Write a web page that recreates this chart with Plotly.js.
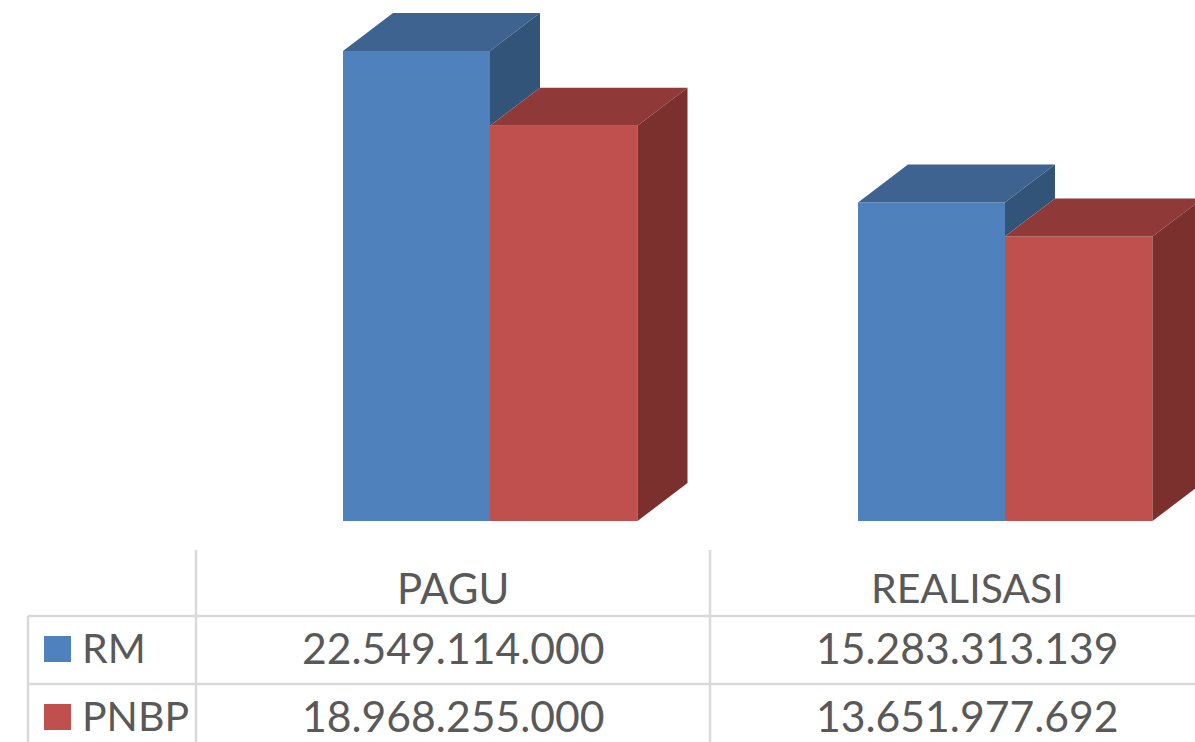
<!DOCTYPE html>
<html>
<head>
<meta charset="utf-8">
<script src="https://cdn.plot.ly/plotly-3.0.1.min.js"></script>
<style>html,body{margin:0;padding:0;background:#fff;overflow:hidden}#chart{width:1195px;height:742px}</style>
</head>
<body>
<div id="chart"></div>
<script>
const categories = ["PAGU", "REALISASI"];
const seriesNames = ["RM", "PNBP"];
const rmValues = [22549114000, 15283313139];
const pnbpValues = [18968255000, 13651977692];

const W = 1195, H = 742;
const frontColors = ["#4F81BD", "#C0504D"];
const topColors = ["#3E6390", "#8F3A38"];
const sideColors = ["#335479", "#7B302E"];
const textColor = "#595959";
const gridColor = "#D9D9D9";
const fontFamily = "Lato, 'Open Sans', sans-serif";

// scales: one category step = 515px, 22549114000 = 470px
const pxPerCat = 515, pxPerVal = 470 / 22549114000;
const x0px = 490, basePx = 521;
const xRange = [-x0px / pxPerCat, (W - x0px) / pxPerCat];
const yRange = [-(H - basePx) / pxPerVal, basePx / pxPerVal];
const barWL = 147 / pxPerCat, barWR = 147.5 / pxPerCat;
const dx = 50 / pxPerCat, dy = 38 / pxPerVal;

const xs = categories.map((_, i) => i);
const fmt = v => String(v).replace(/\B(?=(\d{3})+(?!\d))/g, ".");

function poly(x, y, color) {
  return {type: "scatter", mode: "lines", x: x.concat(x[0]), y: y.concat(y[0]), fill: "toself",
    fillcolor: color, line: {width: 0, color: color}, hoverinfo: "skip", showlegend: false};
}

const traces = [
  {type: "bar", name: seriesNames[0], x: xs, y: rmValues, width: barWL, offset: -barWL,
   marker: {color: frontColors[0], line: {width: 0}}, hoverinfo: "skip"},
  {type: "bar", name: seriesNames[1], x: xs, y: pnbpValues, width: barWR, offset: 0,
   marker: {color: frontColors[1], line: {width: 0}}, hoverinfo: "skip"}
];

xs.forEach(i => {
  const r = rmValues[i], p = pnbpValues[i];
  traces.push(poly([i - barWL, i, i + dx, i - barWL + dx], [r, r, r + dy, r + dy], topColors[0]));
  traces.push(poly([i, i + dx, i + dx, i], [r, r + dy, p + dy, p], sideColors[0]));
  traces.push(poly([i, i + barWR, i + barWR + dx, i + dx], [p, p, p + dy, p + dy], topColors[1]));
  traces.push(poly([i + barWR, i + barWR + dx, i + barWR + dx, i + barWR], [p, p + dy, dy, 0], sideColors[1]));
});

const px = v => v / W, py = v => 1 - v / H;
function line(x1, y1, x2, y2) {
  return {type: "line", xref: "paper", yref: "paper", x0: px(x1), y0: py(y1), x1: px(x2), y1: py(y2),
    line: {color: gridColor, width: 2.5}, layer: "above"};
}
function swatch(y1, y2, color) {
  return {type: "rect", xref: "paper", yref: "paper", x0: px(44), x1: px(71), y0: py(y1), y1: py(y2),
    fillcolor: color, line: {width: 0}, layer: "above"};
}
function label(text, x, y, anchor, size) {
  return {text: text, xref: "paper", yref: "paper", x: px(x), y: py(y), xanchor: anchor, yanchor: "middle",
    showarrow: false, font: {family: fontFamily, size: size, color: textColor}, borderpad: 0};
}

const shapes = [
  line(28, 616, W, 616), line(28, 684, W, 684), line(28, 616, 28, H),
  line(196, 550, 196, H), line(710, 550, 710, H),
  swatch(636, 662, frontColors[0]), swatch(704, 730, frontColors[1])
];
const annotations = [
  label(categories[0], 453, 587.5, "center", 42), label(categories[1], 967, 587.5, "center", 41),
  label(seriesNames[0], 81, 647.5, "left", 41), label(seriesNames[1], 81, 715.5, "left", 41),
  label(fmt(rmValues[0]), 453, 647.5, "center", 42.7), label(fmt(rmValues[1]), 967, 647.5, "center", 42.7),
  label(fmt(pnbpValues[0]), 453, 715.5, "center", 42.7), label(fmt(pnbpValues[1]), 967, 715.5, "center", 42.7)
];

const layout = {
  width: W, height: H, margin: {l: 0, r: 0, t: 0, b: 0}, paper_bgcolor: "#fff", plot_bgcolor: "#fff",
  showlegend: false, barmode: "overlay", hovermode: false,
  xaxis: {range: xRange, visible: false, fixedrange: true},
  yaxis: {range: yRange, visible: false, fixedrange: true},
  shapes: shapes, annotations: annotations
};
Plotly.newPlot("chart", traces, layout, {displayModeBar: false, staticPlot: true});
</script>
</body>
</html>
